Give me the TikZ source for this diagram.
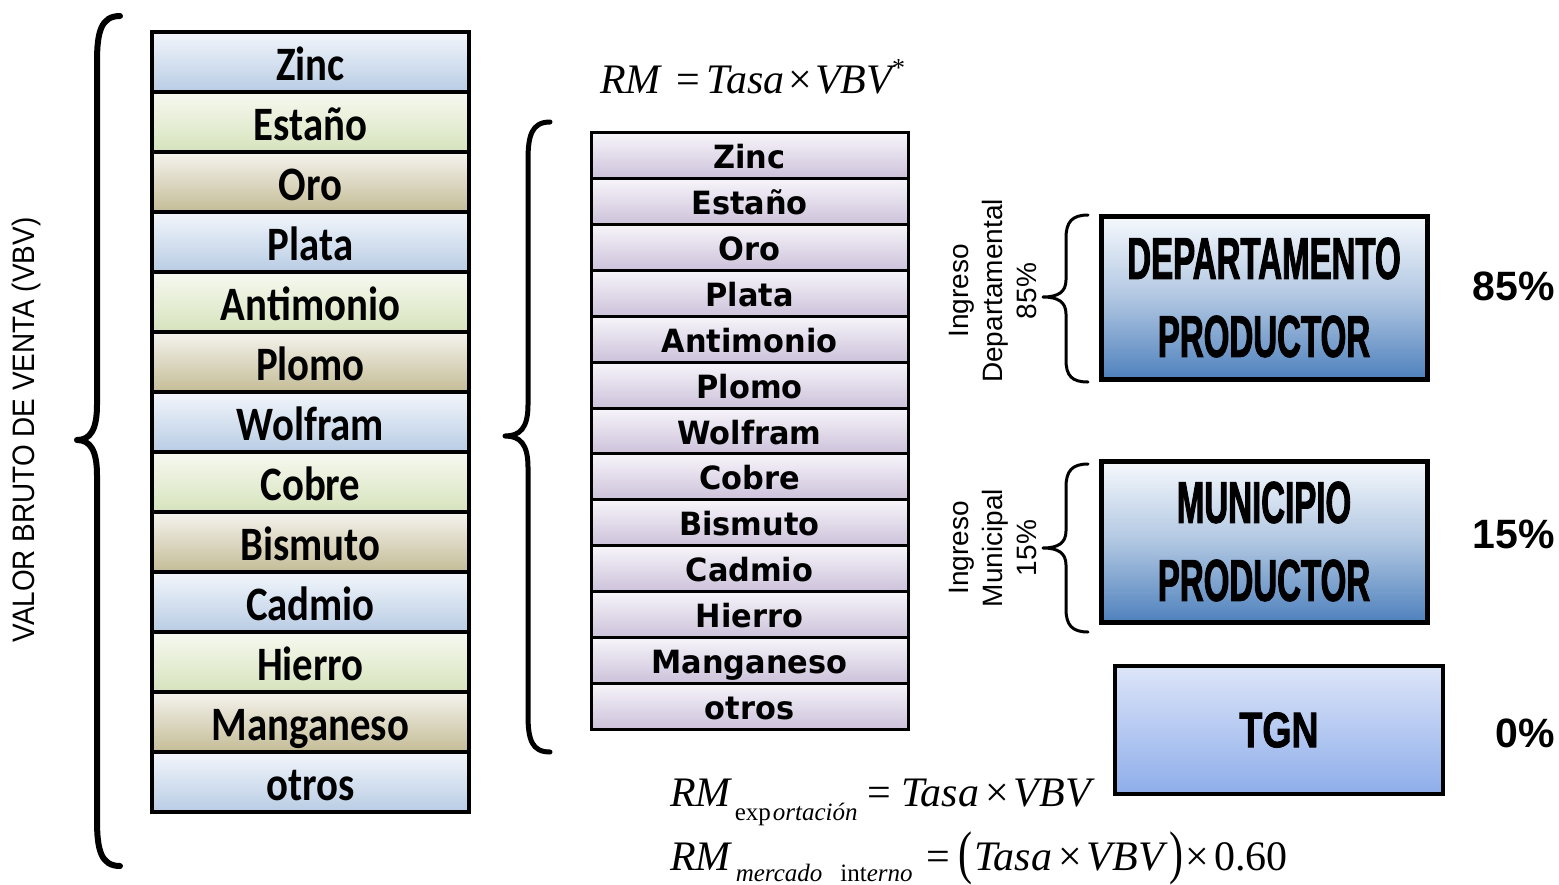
\documentclass[tikz,border=0pt]{standalone}
\usepackage{fontspec}
\setmainfont{Liberation Serif}
\newfontfamily\lcol[FakeStretch=0.85]{Carlito}
\newfontfamily\mcol[FakeStretch=0.95]{DejaVu Sans}
\newfontfamily\condA[FakeStretch=0.56,FakeBold=1.5]{Liberation Sans}
\newfontfamily\condB[FakeStretch=0.75,FakeBold=1.5]{Liberation Sans}
\newfontfamily\arialN[FakeStretch=0.9]{Liberation Sans}
\newfontfamily\arialF{Liberation Sans}
\definecolor{lbT}{HTML}{F3F6FB}
\definecolor{lbB}{HTML}{B8CCE4}
\definecolor{lgT}{HTML}{F7F9F1}
\definecolor{lgB}{HTML}{D6E3BC}
\definecolor{ltT}{HTML}{F5F3EE}
\definecolor{ltB}{HTML}{C4BC96}
\definecolor{mT}{HTML}{F7F5FA}
\definecolor{mB}{HTML}{CCC1DA}
\definecolor{dT}{HTML}{F6F9FD}
\definecolor{dB}{HTML}{4F81BD}
\definecolor{tT}{HTML}{DDE5F8}
\definecolor{tB}{HTML}{8DADEA}
\tikzset{
  lrow/.style={draw=black, line width=3.5pt, minimum width=317pt, minimum height=60pt,
    inner sep=0pt, text height=36pt, text depth=0pt,
    font=\lcol\bfseries\fontsize{48}{56}\selectfont},
  lb/.style={lrow, top color=lbT, bottom color=lbB},
  lg/.style={lrow, top color=lgT, bottom color=lgB},
  lt/.style={lrow, top color=ltT, bottom color=ltB},
  mrow/.style={draw=black, line width=3pt, minimum width=317pt, minimum height=45.85pt,
    inner sep=0pt, text height=26pt, text depth=0pt, top color=mT, bottom color=mB,
    font=\mcol\bfseries\fontsize{32}{36}\selectfont},
  dbox/.style={draw=black, line width=5pt, minimum width=326pt, inner sep=0pt,
    top color=dT, bottom color=dB, middle color=dB!45!white, align=center,
    font=\condA\bfseries\fontsize{59}{78}\selectfont},
  tbox/.style={draw=black, line width=4pt, minimum width=328pt, minimum height=128pt, inner sep=0pt,
    top color=tT, bottom color=tB, align=center,
    font=\condB\bfseries\fontsize{50}{60}\selectfont},
  pct/.style={anchor=base, font=\arialF\bfseries\fontsize{41}{48}\selectfont},
  ingr/.style={rotate=90, align=center, font=\arialF\fontsize{28}{34}\selectfont},
  bigbrace/.style={draw=black, line width=6pt, line cap=round, line join=round},
  midbrace/.style={draw=black, line width=5pt, line cap=round, line join=round},
  smallbrace/.style={draw=black, line width=3pt, line cap=round, line join=round},
  fml/.style={anchor=base west, inner sep=0pt, font=\fontsize{42}{44}\selectfont}
}
\begin{document}
\begin{tikzpicture}[x=1pt,y=-1pt]
\useasboundingbox (0,0) rectangle (1559,884);

% left column
\node[lb] (l1) at (310.5,62) {Zinc};
\node[lg] (l2) at (310.5,122) {Estaño};
\node[lt] (l3) at (310.5,182) {Oro};
\node[lb] (l4) at (310.5,242) {Plata};
\node[lg] (l5) at (310.5,302) {Antimonio};
\node[lt] (l6) at (310.5,362) {Plomo};
\node[lb] (l7) at (310.5,422) {Wolfram};
\node[lg] (l8) at (310.5,482) {Cobre};
\node[lt] (l9) at (310.5,542) {Bismuto};
\node[lb] (l10) at (310.5,602) {Cadmio};
\node[lg] (l11) at (310.5,662) {Hierro};
\node[lt] (l12) at (310.5,722) {Manganeso};
\node[lb] (l13) at (310.5,782) {otros};

% middle column
\node[mrow] (m1) at (749.5,155.9) {Zinc};
\node[mrow] (m2) at (749.5,201.8) {Estaño};
\node[mrow] (m3) at (749.5,247.6) {Oro};
\node[mrow] (m4) at (749.5,293.5) {Plata};
\node[mrow] (m5) at (749.5,339.3) {Antimonio};
\node[mrow] (m6) at (749.5,385.2) {Plomo};
\node[mrow] (m7) at (749.5,431.0) {Wolfram};
\node[mrow] (m8) at (749.5,476.9) {Cobre};
\node[mrow] (m9) at (749.5,522.7) {Bismuto};
\node[mrow] (m10) at (749.5,568.6) {Cadmio};
\node[mrow] (m11) at (749.5,614.4) {Hierro};
\node[mrow] (m12) at (749.5,660.3) {Manganeso};
\node[mrow] (m13) at (749.5,706.1) {otros};

% right boxes
\node[dbox, minimum height=163pt] (dep) at (1264,297.5) {DEPARTAMENTO\\PRODUCTOR};
\node[dbox, minimum height=161pt] (mun) at (1264,541.5) {MUNICIPIO\\PRODUCTOR};
\node[tbox] (tgn) at (1279,730) {TGN};

% percentages
\node[pct] (p85) at (1514,300) {85\%};
\node[pct] (p15) at (1514,548) {15\%};
\node[pct] (p0) at (1525,747) {0\%};

% rotated labels
\node[rotate=90, font=\arialN\fontsize{31}{36}\selectfont] (vbv) at (26,430) {VALOR BRUTO DE VENTA (VBV)};
\node[ingr] (ingd) at (993,291) {Ingreso\\Departamental\\85\%};
\node[ingr] (ingm) at (993,548) {Ingreso\\Municipal\\15\%};

% braces
\draw[bigbrace] (120,16) .. controls (101,16) and (97,32) .. (97,62) -- (97,405)
  .. controls (97,430) and (90,440) .. (77,440) .. controls (90,440) and (97,450) .. (97,475)
  -- (97,820) .. controls (97,850) and (101,866) .. (120,866);
\draw[midbrace] (550,122) .. controls (532,122) and (528,135) .. (528,160) -- (528,405)
  .. controls (528,428) and (520,436) .. (505,436) .. controls (520,436) and (528,444) .. (528,467)
  -- (528,715) .. controls (528,740) and (532,752) .. (550,752);
\draw[smallbrace] (1088,215) .. controls (1072,215) and (1066,222) .. (1066,238) -- (1066,280)
  .. controls (1066,292) and (1058,297) .. (1043,297) .. controls (1058,297) and (1066,302) .. (1066,314)
  -- (1066,360) .. controls (1066,376) and (1072,382) .. (1088,382);
\draw[smallbrace] (1088,464) .. controls (1072,464) and (1066,471) .. (1066,487) -- (1066,531)
  .. controls (1066,543) and (1058,548) .. (1043,548) .. controls (1058,548) and (1066,553) .. (1066,565)
  -- (1066,609) .. controls (1066,625) and (1072,632) .. (1088,632);

% formulas
\node[fml] (f1) at (600,93)
  {\itshape RM\hspace{16pt}\upshape=\hspace{6pt}\itshape Tasa\hspace{4pt}\upshape×\hspace{3pt}\itshape VBV\raisebox{17pt}{\upshape\fontsize{26}{26}\selectfont *}};
\node[fml] (f2) at (670,806)
  {\itshape RM\hspace{4pt}\raisebox{-14pt}{\fontsize{25}{26}\selectfont\upshape exp\hspace{2pt}\itshape ortación}\hspace{10pt}\upshape=\hspace{10pt}\itshape Tasa\hspace{6pt}\upshape×\hspace{5pt}\itshape VBV};
\node[fml] (f3) at (670,870)
  {\itshape RM\hspace{5pt}\raisebox{-11pt}{\fontsize{25}{26}\selectfont\itshape mercado\hspace{18pt}\upshape int\itshape erno}\hspace{14pt}\upshape=\hspace{8pt}\raisebox{-2pt}{\scalebox{1}[1.4]{(}}\hspace{2pt}\itshape Tasa\hspace{6pt}\upshape×\hspace{5pt}\itshape VBV\hspace{6pt}\upshape\raisebox{-2pt}{\scalebox{1}[1.4]{)}}\hspace{2pt}×\hspace{5pt}0.60};
\end{tikzpicture}
\end{document}
